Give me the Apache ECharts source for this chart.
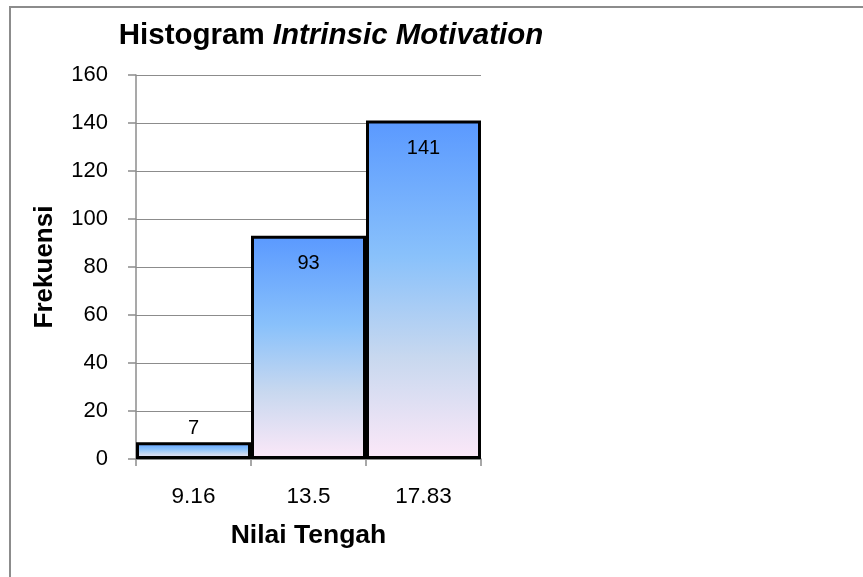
<!DOCTYPE html>
<html>
<head>
<meta charset="utf-8">
<script src="https://cdn.jsdelivr.net/npm/echarts@6/dist/echarts.min.js"></script>
<style>
html,body{margin:0;padding:0;background:#fff;}
#frame{position:absolute;left:9px;top:6px;width:860px;height:580px;border-left:2px solid #8c8c8c;border-top:2px solid #8c8c8c;}
#c{position:absolute;left:0;top:0;width:863px;height:577px;}
</style>
</head>
<body>
<div id="frame"></div>
<div id="c"></div>
<script>
const categories = ['9.16', '13.5', '17.83'];
const frequencies = [7, 93, 141];
const yTicks = { min: 0, max: 160, interval: 20 };
const labelPositions = ['top', 'insideTop', 'insideTop'];

const chart = echarts.init(document.getElementById('c'), null, { renderer: 'canvas' });
const font = 'Liberation Sans, Arial, sans-serif';
const grad = new echarts.graphic.LinearGradient(0, 0, 0, 1, [
  { offset: 0, color: '#5a99ff' },
  { offset: 0.4, color: '#89c1fb' },
  { offset: 0.7, color: '#c8d8ef' },
  { offset: 1, color: '#fce8f8' }
]);
chart.setOption({
  backgroundColor: 'transparent',
  animation: false,
  title: {
    text: '{a|Histogram }{b|Intrinsic Motivation}',
    left: 326, top: 16, textAlign: 'center',
    textStyle: {
      rich: {
        a: { fontFamily: font, fontSize: 29.5, fontWeight: 'bold', color: '#000' },
        b: { fontFamily: font, fontSize: 29.5, fontWeight: 'bold', fontStyle: 'italic', color: '#000' }
      }
    }
  },
  grid: { left: 136, right: 382, top: 75, bottom: 118, containLabel: false },
  xAxis: {
    type: 'category',
    data: categories,
    boundaryGap: true,
    name: 'Nilai Tengah',
    nameLocation: 'middle',
    nameGap: 63,
    nameTextStyle: { fontFamily: font, fontSize: 26.5, fontWeight: 'bold', color: '#000' },
    axisLine: { show: true, lineStyle: { color: '#8c8c8c', width: 1.5 } },
    axisTick: { show: true, length: 7, alignWithLabel: false, lineStyle: { color: '#8c8c8c', width: 1.5 } },
    axisLabel: { fontFamily: font, fontSize: 22.5, color: '#000', margin: 26 },
    splitLine: { show: false }
  },
  yAxis: {
    type: 'value',
    min: yTicks.min, max: yTicks.max, interval: yTicks.interval,
    name: 'Frekuensi',
    nameLocation: 'middle',
    nameGap: 78,
    nameTextStyle: { fontFamily: font, fontSize: 26, fontWeight: 'bold', color: '#000' },
    axisLine: { show: true, lineStyle: { color: '#8c8c8c', width: 1.5 } },
    axisTick: { show: true, length: 8, lineStyle: { color: '#8c8c8c', width: 1.5 } },
    axisLabel: { fontFamily: font, fontSize: 22, color: '#000', margin: 28 },
    splitLine: { show: true, lineStyle: { color: '#8c8c8c', width: 1.2 } }
  },
  series: [{
    type: 'bar',
    barWidth: '100%',
    barCategoryGap: 0,
    data: frequencies.map((v, i) => ({
      value: v,
      label: { position: labelPositions[i], distance: labelPositions[i] === 'top' ? 4 : 18 }
    })),
    itemStyle: { color: grad, borderColor: '#000', borderWidth: 3 },
    label: { show: true, fontFamily: font, fontSize: 20, color: '#000' }
  }]
});
</script>
</body>
</html>
